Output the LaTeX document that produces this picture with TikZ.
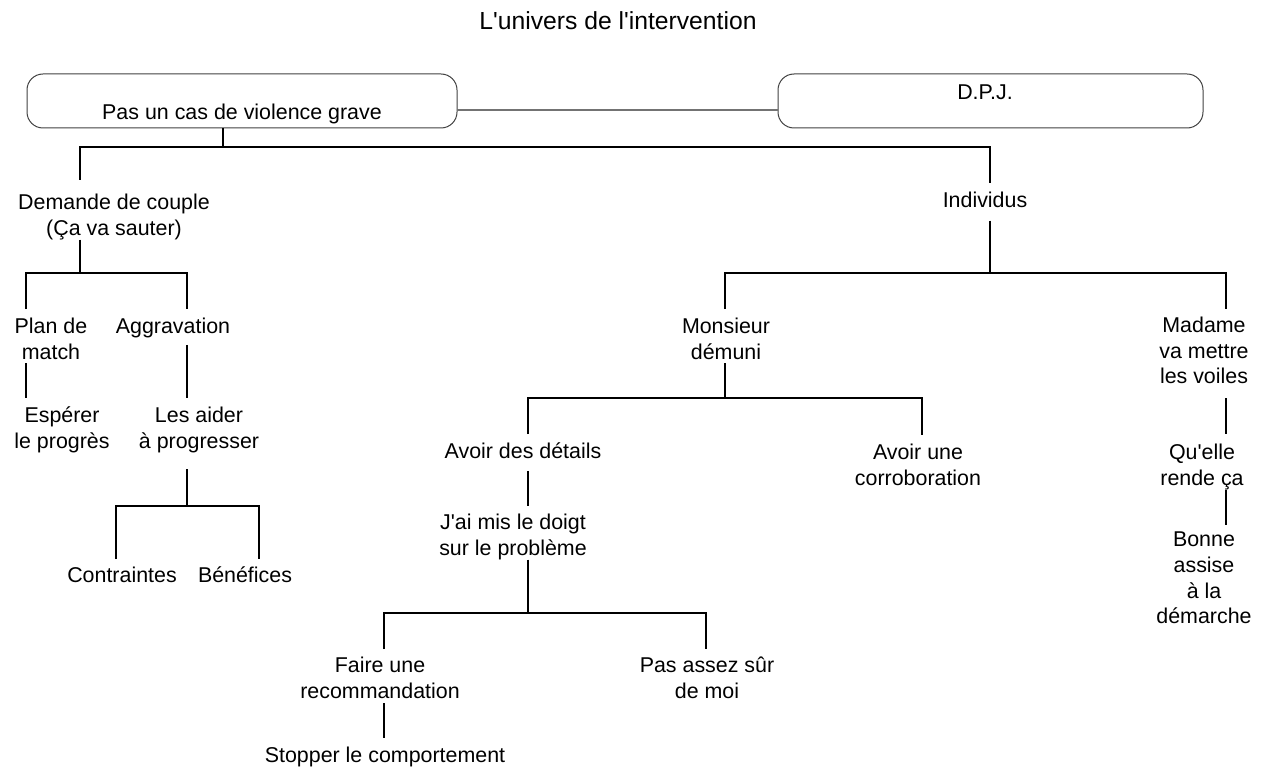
\documentclass[tikz,border=0pt]{standalone}
\usepackage{fontspec}
\setmainfont{Liberation Sans}[Ligatures=TeXOff]
\begin{document}
\begin{tikzpicture}[x=1pt,y=-1pt,
  txt/.style={font=\fontsize{21.4}{25.7}\selectfont, align=center, inner sep=0pt, outer sep=0pt, anchor=north},
  tree/.style={line width=1.3pt, black},
  boxst/.style={draw=black!75, line width=1pt, rounded corners=16pt, inner sep=0pt, outer sep=0pt, font=\fontsize{21.4}{25.7}\selectfont},
  link/.style={draw=black!55, line width=1.2pt}]
\useasboundingbox (0,0) rectangle (1268,767);

\node[txt] (title) at (618,11.5) {\fontsize{24.7}{30}\selectfont L'univers de l'intervention};

\node[boxst, minimum width=430pt, text height=46pt, text depth=8pt] (box1) at (242,101) {Pas un cas de violence grave};
\node[boxst, minimum width=425pt, text height=26pt, text depth=28pt] (box2) at (990.5,101) {D.P.J.\hspace*{11pt}};
\draw[link] ([yshift=-9pt]box1.east) -- ([yshift=-9pt]box2.west);

\node[txt] (demande) at (114,194) {Demande de couple\\(Ça va sauter)};
\node[txt] (individus) at (985,192) {Individus};
\node[txt] (plan) at (51,318) {Plan de\\match};
\node[txt] (aggrav) at (173,318) {Aggravation};
\node[txt] (esperer) at (62,407) {Espérer\\le progrès};
\node[txt] (aider) at (199,407) {Les aider\\à progresser};
\node[txt] (contr) at (122,567) {Contraintes};
\node[txt] (benef) at (245,567) {Bénéfices};
\node[txt] (monsieur) at (726,318) {Monsieur\\démuni};
\node[txt] (madame) at (1204,317) {Madame\\va mettre\\les voiles};
\node[txt] (details) at (523,443) {Avoir des détails};
\node[txt] (corrob) at (918,444) {Avoir une\\corroboration};
\node[txt] (doigt) at (513,514) {J'ai mis le doigt\\sur le problème};
\node[txt] (recom) at (380,657) {Faire une\\recommandation};
\node[txt] (passur) at (707,657) {Pas assez sûr\\de moi};
\node[txt] (stopper) at (385,747) {Stopper le comportement};
\node[txt] (quelle) at (1202,444) {Qu'elle\\rende ça};
\node[txt] (bonne) at (1204,532) {Bonne\\assise\\à la\\démarche};

\draw[tree] ([xshift=-19pt]box1.south) -- ++(0,19);
\draw[tree] ([xshift=-34pt,yshift=14pt]demande.north) -- ++(0,-33) -| ([xshift=5pt,yshift=9pt]individus.north);
\draw[tree] ([xshift=-34pt]demande.south) -- ++(0,33);
\draw[tree] ([xshift=-25pt,yshift=9pt]plan.north) -- ++(0,-36) -| ([xshift=14pt,yshift=9pt]aggrav.north);
\draw[tree] ([xshift=-25pt,yshift=-4pt]plan.south) -- ([xshift=-36pt,yshift=9pt]esperer.north);
\draw[tree] ([xshift=14pt,yshift=-7pt]aggrav.south) -- ([xshift=-12pt,yshift=9pt]aider.north);
\draw[tree] ([xshift=-12pt,yshift=-16.5pt]aider.south) -- ++(0,37);
\draw[tree] ([xshift=-6pt,yshift=8pt]contr.north) -- ++(0,-53) -| ([xshift=14pt,yshift=8pt]benef.north);
\draw[tree] ([xshift=5pt,yshift=-13pt]individus.south) -- ++(0,53);
\draw[tree] ([xshift=-1pt,yshift=9pt]monsieur.north) -- ++(0,-36) -| ([xshift=22pt,yshift=8pt]madame.north);
\draw[tree] ([xshift=-1pt,yshift=-4pt]monsieur.south) -- ++(0,35);
\draw[tree] ([xshift=5pt,yshift=9pt]details.north) -- ++(0,-36) -| ([xshift=4pt,yshift=9pt]corrob.north);
\draw[tree] ([xshift=5pt,yshift=-12pt]details.south) -- ([xshift=15pt,yshift=8pt]doigt.north);
\draw[tree] ([xshift=15pt]doigt.south) -- ++(0,53);
\draw[tree] ([xshift=4pt,yshift=8pt]recom.north) -- ++(0,-36) -| ([xshift=-1pt,yshift=8pt]passur.north);
\draw[tree] ([xshift=4pt,yshift=-5pt]recom.south) -- ([xshift=-1pt,yshift=9pt]stopper.north);
\draw[tree] ([xshift=22pt,yshift=-14pt]madame.south) -- ([xshift=24pt,yshift=10pt]quelle.north);
\draw[tree] ([xshift=24pt]quelle.south) -- ([xshift=22pt,yshift=7pt]bonne.north);
\end{tikzpicture}
\end{document}
